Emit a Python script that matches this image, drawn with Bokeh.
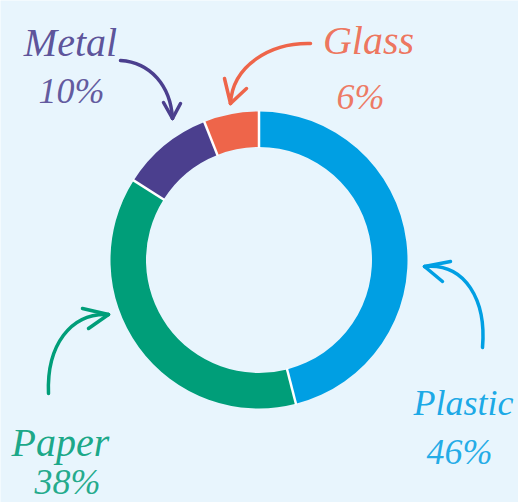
import math
from bokeh.plotting import figure
from bokeh.models import Range1d, ColumnDataSource
from bokeh.core.properties import value
from bokeh.embed import file_html
from bokeh.resources import INLINE

# ---- data ----
categories = ["Plastic", "Paper", "Metal", "Glass"]
shares = [46, 38, 10, 6]
colors = ["#009FE3", "#009E79", "#4B3F8E", "#EE654A"]
pct_labels = ["46%", "38%", "10%", "6%"]

BG = "#E8F5FD"
W, H = 518, 502

def px(X, Y):
    # page pixel -> data coords
    return X, H - Y

p = figure(width=W, height=H, output_backend="svg", toolbar_location=None,
           x_range=Range1d(0, W), y_range=Range1d(0, H),
           min_border=0, background_fill_color=BG, border_fill_color=BG)
p.axis.visible = False
p.grid.visible = False
p.outline_line_color = None

cx, cy = px(258.5, 259.5)
r_out, r_in = 148.5, 113.0

total = sum(shares)
starts, ends = [], []
cum = 0
for s in shares:
    starts.append(math.pi / 2 - 2 * math.pi * cum / total)
    cum += s
    ends.append(math.pi / 2 - 2 * math.pi * cum / total)

src = ColumnDataSource(dict(cat=categories, start=starts, end=ends, color=colors))
p.annular_wedge(x=cx, y=cy, inner_radius=r_in, outer_radius=r_out,
                start_angle="start", end_angle="end", direction="clock",
                fill_color="color", line_color=None, source=src)

# white separators between slices
sx0 = [cx + (r_in - 1) * math.cos(a) for a in starts]
sy0 = [cy + (r_in - 1) * math.sin(a) for a in starts]
sx1 = [cx + (r_out + 1) * math.cos(a) for a in starts]
sy1 = [cy + (r_out + 1) * math.sin(a) for a in starts]
p.segment(x0=sx0, y0=sy0, x1=sx1, y1=sy1, line_color="white", line_width=2.5)

# ---- labels (page-pixel layout) ----
# (x, y, align, size)
name_pos = {"Plastic": (413, 402, "left", "36px"), "Paper": (60, 442, "center", "40px"),
            "Metal": (70, 42, "center", "40px"), "Glass": (368, 40, "center", "40px")}
pct_pos = {"Plastic": (459, 451), "Paper": (67, 481), "Metal": (71, 90), "Glass": (360, 96)}
font = value("Liberation Serif")
for cat, pct, col in zip(categories, pct_labels, colors):
    X, Y, al, fs = name_pos[cat]
    x, y = px(X, Y)
    p.text(x=[x], y=[y], text=[cat], text_font=font, text_font_style="italic",
           text_font_size=fs, text_color=col, text_align=al,
           text_baseline="middle", text_alpha=0.9)
    x, y = px(*pct_pos[cat])
    p.text(x=[x], y=[y], text=[pct], text_font=font, text_font_style="italic",
           text_font_size="36px", text_color=col, text_align="center",
           text_baseline="middle", text_alpha=0.85)

# ---- curved arrows (page-pixel layout) ----
arrows = {
    "Metal": dict(tail=(120, 60), c0=(150, 62), c1=(170, 85), tip=(172, 118),
                  arms=[(163, 102), (180, 103)]),
    "Glass": dict(tail=(310, 43), c0=(270, 42), c1=(232, 65), tip=(230, 103),
                  arms=[(224, 78), (246, 88)]),
    "Plastic": dict(tail=(482, 347), c0=(486, 300), c1=(465, 262), tip=(424, 266),
                    arms=[(450, 261), (442, 281)]),
    "Paper": dict(tail=(48, 393), c0=(46, 345), c1=(70, 312), tip=(108, 314),
                  arms=[(82, 308), (88, 328)]),
}
for cat, col in zip(categories, colors):
    a = arrows[cat]
    x0, y0 = px(*a["tail"])
    xa, ya = px(*a["c0"])
    xb, yb = px(*a["c1"])
    x1, y1 = px(*a["tip"])
    p.bezier(x0=[x0], y0=[y0], x1=[x1], y1=[y1], cx0=[xa], cy0=[ya], cx1=[xb], cy1=[yb],
             line_color=col, line_width=3.5, line_cap="round")
    xs, ys = [], []
    for arm in a["arms"]:
        ax, ay = px(*arm)
        xs.append([ax, x1]); ys.append([ay, y1])
    p.multi_line(xs=xs, ys=ys, line_color=col, line_width=3.5, line_cap="round")

html = file_html(p, INLINE)
html = html.replace("<body>", '<body style="background:%s">' % BG, 1)
open("out.html", "w").write(html)
